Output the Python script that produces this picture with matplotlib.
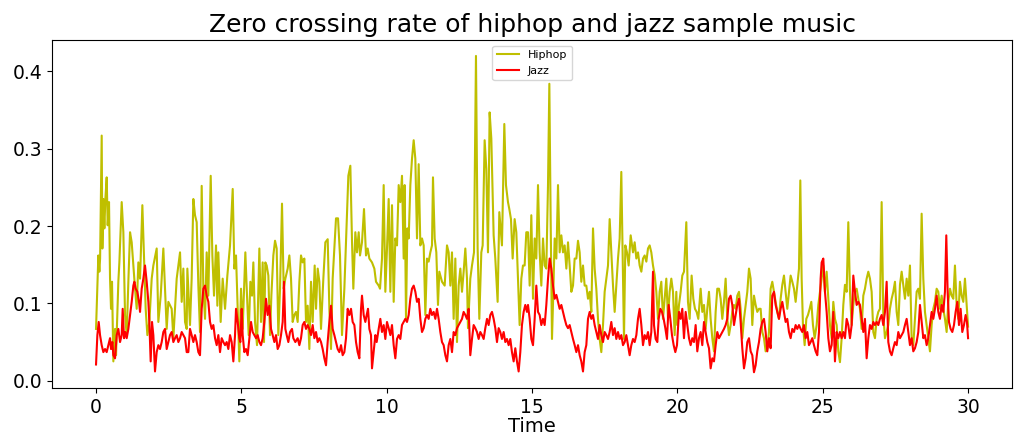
import matplotlib
matplotlib.use("Agg")
import matplotlib.pyplot as plt
from matplotlib.ticker import MultipleLocator

# zero crossing rate frames (time in seconds, rate per frame)
hiphop_time = [
    0.0, 0.08, 0.115, 0.14, 0.195, 0.218, 0.252, 0.287, 0.321, 0.367, 0.401, 0.447, 0.482, 0.516, 0.55,
    0.596, 0.654, 0.688, 0.768, 0.803, 0.883, 0.94, 0.998, 1.055, 1.112, 1.17, 1.227, 1.342, 1.399, 1.456,
    1.514, 1.594, 1.651, 1.708, 1.766, 1.835, 1.915, 1.972, 2.087, 2.144, 2.225, 2.316, 2.373, 2.431, 2.488,
    2.603, 2.66, 2.775, 2.89, 2.947, 3.004, 3.062, 3.119, 3.142, 3.233, 3.29, 3.348, 3.405, 3.463, 3.52,
    3.577, 3.635, 3.692, 3.75, 3.807, 3.864, 3.945, 4.002, 4.059, 4.128, 4.174, 4.208, 4.288, 4.357, 4.438,
    4.518, 4.61, 4.702, 4.759,
    4.816, 4.873, 4.93, 4.988, 5.045, 5.137, 5.194, 5.252, 5.309, 5.366, 5.412, 5.47, 5.538, 5.619, 5.676,
    5.733, 5.779, 5.825, 5.871, 5.928, 5.986, 6.032, 6.1, 6.158, 6.215, 6.272, 6.33, 6.398, 6.456, 6.513,
    6.593, 6.651, 6.708, 6.765, 6.823, 6.88, 6.937, 6.995, 7.052, 7.109, 7.167, 7.224, 7.281, 7.339, 7.396,
    7.453, 7.522, 7.568, 7.626, 7.683, 7.74, 7.82, 7.889, 7.97, 8.027, 8.084, 8.141, 8.199, 8.256, 8.325,
    8.393, 8.462, 8.543, 8.623, 8.68, 8.749, 8.807, 8.852, 8.921, 8.978, 9.036, 9.082, 9.15, 9.219, 9.288,
    9.345, 9.403, 9.494, 9.575, 9.632, 9.724, 9.77,
    9.838, 9.896, 9.953, 10.01, 10.068, 10.125, 10.182, 10.24, 10.297, 10.354, 10.412, 10.469, 10.526,
    10.584, 10.618, 10.664, 10.71, 10.756, 10.813, 10.87, 10.928, 10.985, 11.042, 11.1, 11.157, 11.214,
    11.272, 11.329, 11.386, 11.443, 11.501, 11.558, 11.592, 11.65, 11.707, 11.764, 11.81, 11.902, 11.994,
    12.074, 12.131, 12.189, 12.246, 12.303, 12.361, 12.418, 12.475, 12.533, 12.59, 12.647, 12.705, 12.762,
    12.796, 12.876, 12.934, 13.003, 13.071, 13.128, 13.186, 13.255, 13.301, 13.369, 13.427, 13.484, 13.541,
    13.599, 13.679, 13.736, 13.816, 13.874, 13.965, 14.046, 14.103, 14.172, 14.218, 14.275, 14.333, 14.401,
    14.459, 14.516, 14.573, 14.631, 14.688, 14.745, 14.803,
    14.861, 14.918, 14.975, 15.033, 15.09, 15.147, 15.205, 15.262, 15.319, 15.377, 15.434, 15.491, 15.549,
    15.595, 15.64, 15.686, 15.732, 15.778, 15.836, 15.893, 15.95, 16.008, 16.065, 16.122, 16.18, 16.237,
    16.294, 16.352, 16.409, 16.466, 16.524, 16.581, 16.638, 16.695, 16.753, 16.81, 16.867, 16.925, 16.982,
    17.039, 17.097, 17.154, 17.211, 17.269, 17.326, 17.383, 17.441, 17.498, 17.555, 17.613, 17.67, 17.727,
    17.785, 17.842, 17.899, 17.957, 18.014, 18.071, 18.117, 18.163, 18.209, 18.266, 18.324, 18.393, 18.473,
    18.53, 18.588, 18.645, 18.702, 18.76, 18.817, 18.874, 18.932, 18.989, 19.046, 19.103, 19.161, 19.218,
    19.275, 19.333, 19.39, 19.447, 19.505, 19.562, 19.619, 19.677, 19.734, 19.791, 19.849, 19.906, 19.963,
    19.997, 20.055, 20.112, 20.169, 20.227, 20.307, 20.364, 20.422, 20.49, 20.548, 20.605, 20.662, 20.72,
    20.8, 20.857, 20.915, 20.972, 21.029, 21.087, 21.144, 21.201, 21.259, 21.316, 21.373, 21.431, 21.488,
    21.545, 21.603, 21.66, 21.717, 21.775, 21.832, 21.889, 21.947, 22.004, 22.061, 22.119, 22.176, 22.233,
    22.291, 22.348, 22.405, 22.463, 22.52, 22.577, 22.635, 22.692, 22.749, 22.807, 22.864, 22.921, 22.979,
    23.036, 23.093, 23.151, 23.208, 23.265, 23.323, 23.38, 23.437, 23.495, 23.552, 23.609, 23.667, 23.724,
    23.781, 23.839, 23.896, 23.953, 24.011, 24.068, 24.125, 24.183, 24.229, 24.275, 24.32, 24.378, 24.435,
    24.492, 24.55, 24.607, 24.664, 24.722, 24.791, 24.848,
    24.905, 24.963, 25.02, 25.077, 25.135, 25.192, 25.249, 25.307, 25.364, 25.421, 25.479, 25.536, 25.593,
    25.651, 25.708, 25.765, 25.823, 25.88, 25.937, 25.995, 26.052, 26.109, 26.167, 26.224, 26.281, 26.339,
    26.396, 26.453, 26.511, 26.568, 26.625, 26.683, 26.74, 26.797, 26.855, 26.912, 26.969, 27.027, 27.084,
    27.141, 27.199, 27.256, 27.313, 27.371, 27.428, 27.485, 27.543, 27.6, 27.657, 27.715, 27.772, 27.829,
    27.887, 27.944, 28.001, 28.059, 28.116, 28.173, 28.231, 28.288, 28.345, 28.403, 28.46, 28.517, 28.575,
    28.632, 28.689, 28.747, 28.804, 28.861, 28.919, 28.976, 29.033, 29.091, 29.148, 29.205, 29.263, 29.32,
    29.377, 29.435, 29.492, 29.549, 29.607, 29.664, 29.721, 29.779, 29.836, 29.893, 29.951, 30.0,
]
hiphop_zcr = [
    0.067, 0.162, 0.141, 0.158, 0.317, 0.171, 0.235, 0.197, 0.235, 0.263, 0.201, 0.231, 0.132, 0.093, 0.128,
    0.025, 0.067, 0.033, 0.128, 0.153, 0.231, 0.192, 0.085, 0.059, 0.128, 0.192, 0.179, 0.119, 0.093, 0.153,
    0.132, 0.227, 0.162, 0.093, 0.059, 0.076, 0.132, 0.149, 0.171, 0.076, 0.11, 0.171, 0.119, 0.067, 0.102,
    0.093, 0.055, 0.132, 0.166, 0.102, 0.145, 0.076, 0.067, 0.145, 0.072, 0.132, 0.235, 0.214, 0.205, 0.123,
    0.063, 0.252, 0.119, 0.08, 0.166, 0.11, 0.265, 0.162, 0.11, 0.175, 0.097, 0.166, 0.076, 0.132, 0.093,
    0.136, 0.175, 0.248, 0.145,
    0.162, 0.093, 0.025, 0.119, 0.067, 0.166, 0.11, 0.059, 0.128, 0.11, 0.153, 0.076, 0.046, 0.171, 0.076,
    0.153, 0.05, 0.153, 0.149, 0.136, 0.059, 0.11, 0.162, 0.181, 0.171, 0.059, 0.119, 0.229, 0.119, 0.132,
    0.145, 0.162, 0.132, 0.076, 0.085, 0.089, 0.076, 0.128, 0.162, 0.153, 0.158, 0.076, 0.097, 0.041, 0.128,
    0.076, 0.149, 0.093, 0.145, 0.128, 0.067, 0.132, 0.179, 0.183, 0.093, 0.041, 0.132, 0.171, 0.21, 0.21,
    0.162, 0.059, 0.119, 0.205, 0.265, 0.278, 0.179, 0.119, 0.192, 0.166, 0.192, 0.162, 0.179, 0.222, 0.162,
    0.171, 0.158, 0.153, 0.145, 0.128, 0.123, 0.119,
    0.158, 0.253, 0.115, 0.171, 0.235, 0.115, 0.227, 0.102, 0.184, 0.175, 0.253, 0.231, 0.265,
    0.158, 0.253, 0.08, 0.197, 0.184, 0.253, 0.287, 0.311, 0.287, 0.184, 0.28, 0.175, 0.184,
    0.175, 0.085, 0.158, 0.154, 0.166, 0.175, 0.263, 0.184, 0.166, 0.098, 0.141, 0.128, 0.123,
    0.175, 0.166, 0.123, 0.166, 0.08, 0.158, 0.05, 0.123, 0.145, 0.115, 0.141, 0.171, 0.132,
    0.068, 0.132, 0.149, 0.166, 0.42, 0.171, 0.08, 0.166, 0.175, 0.311, 0.274, 0.166, 0.347,
    0.313, 0.188, 0.158, 0.102, 0.218, 0.175, 0.332, 0.253, 0.231, 0.222, 0.209, 0.158, 0.209,
    0.192, 0.132, 0.072, 0.132, 0.149, 0.149, 0.192,
    0.192, 0.123, 0.214, 0.106, 0.184, 0.158, 0.253, 0.166, 0.123, 0.184, 0.149, 0.145, 0.253,
    0.384, 0.209, 0.054, 0.115, 0.184, 0.158, 0.253, 0.166, 0.188, 0.166, 0.175, 0.145, 0.179,
    0.149, 0.115, 0.123, 0.158, 0.158, 0.181, 0.166, 0.128, 0.149, 0.123, 0.123, 0.106, 0.115,
    0.089, 0.197, 0.145, 0.119, 0.08, 0.054, 0.037, 0.072, 0.115, 0.132, 0.149, 0.209, 0.166,
    0.123, 0.089, 0.123, 0.158, 0.184, 0.27, 0.158, 0.054, 0.175, 0.166, 0.149, 0.188, 0.166,
    0.179, 0.158, 0.166, 0.149, 0.141, 0.158, 0.162, 0.154, 0.171, 0.175, 0.166, 0.149, 0.137,
    0.115, 0.08, 0.115, 0.128, 0.08, 0.106, 0.132, 0.08, 0.115, 0.132, 0.115, 0.059, 0.115,
    0.072, 0.098, 0.115, 0.136, 0.141, 0.205, 0.102, 0.08, 0.136, 0.106, 0.093, 0.089, 0.08,
    0.119, 0.089, 0.098, 0.067, 0.093, 0.115, 0.08, 0.055, 0.038, 0.089, 0.119, 0.119, 0.106,
    0.08, 0.102, 0.132, 0.08, 0.059, 0.072, 0.089, 0.098, 0.093, 0.11, 0.115, 0.093, 0.055,
    0.08, 0.098, 0.115, 0.145, 0.132, 0.072, 0.11, 0.098, 0.089, 0.093, 0.093, 0.063, 0.055,
    0.038, 0.042, 0.063, 0.119, 0.128, 0.115, 0.102, 0.089, 0.08, 0.106, 0.124, 0.136, 0.115,
    0.093, 0.115, 0.136, 0.128, 0.119, 0.102, 0.124, 0.145, 0.259, 0.132, 0.072, 0.046, 0.08,
    0.085, 0.093, 0.102, 0.072, 0.055, 0.072, 0.098,
    0.115, 0.132, 0.149, 0.115, 0.141, 0.106, 0.072, 0.055, 0.102, 0.08, 0.072, 0.038, 0.024,
    0.055, 0.098, 0.124, 0.115, 0.205, 0.115, 0.072, 0.098, 0.115, 0.119, 0.106, 0.093, 0.067,
    0.11, 0.119, 0.132, 0.141, 0.132, 0.115, 0.063, 0.055, 0.08, 0.089, 0.093, 0.231, 0.085,
    0.055, 0.063, 0.072, 0.093, 0.106, 0.115, 0.128, 0.089, 0.072, 0.124, 0.141, 0.124, 0.106,
    0.132, 0.11, 0.149, 0.055, 0.046, 0.08, 0.115, 0.119, 0.106, 0.216, 0.132, 0.089, 0.072,
    0.055, 0.038, 0.072, 0.093, 0.102, 0.119, 0.115, 0.093, 0.11, 0.093, 0.08, 0.063, 0.102,
    0.119, 0.11, 0.106, 0.149, 0.098, 0.08, 0.128, 0.11, 0.102, 0.132, 0.098, 0.07,
]

jazz_time = [
    0.0, 0.046, 0.092, 0.138, 0.195, 0.252, 0.31, 0.367, 0.424, 0.482, 0.516, 0.562, 0.596, 0.654, 0.711,
    0.768, 0.826, 0.883, 0.917, 0.963, 1.009, 1.055, 1.112, 1.17, 1.227, 1.284, 1.319, 1.365, 1.422, 1.479,
    1.514, 1.571, 1.628, 1.685, 1.743, 1.8, 1.834, 1.88, 1.926, 1.972, 2.029, 2.087, 2.144, 2.201, 2.259,
    2.316, 2.373, 2.431, 2.488, 2.545, 2.603, 2.66, 2.718, 2.775, 2.832, 2.89, 2.947, 3.004, 3.062, 3.119,
    3.176, 3.233, 3.29, 3.348, 3.405, 3.463, 3.52, 3.577, 3.635, 3.692, 3.75, 3.807, 3.864, 3.922, 3.979,
    4.036, 4.094, 4.151, 4.208, 4.266, 4.323, 4.38, 4.438, 4.495, 4.552, 4.61, 4.667, 4.724, 4.782,
    4.816, 4.873, 4.93, 4.965, 5.011, 5.045, 5.102, 5.16, 5.217, 5.274, 5.332, 5.389, 5.447, 5.504, 5.561,
    5.619, 5.676, 5.733, 5.791, 5.848, 5.905, 5.963, 6.02, 6.077, 6.135, 6.192, 6.249, 6.307, 6.364, 6.421,
    6.467, 6.513, 6.559, 6.616, 6.674, 6.742, 6.788, 6.857, 6.937, 6.995, 7.052, 7.109, 7.167, 7.224, 7.281,
    7.339, 7.396, 7.453, 7.511, 7.568, 7.625, 7.683, 7.74, 7.797, 7.855, 7.912, 7.969, 8.027, 8.084, 8.141,
    8.199, 8.256, 8.313, 8.371, 8.428, 8.485, 8.543, 8.6, 8.657, 8.715, 8.772, 8.829, 8.887, 8.944, 9.001,
    9.059, 9.116, 9.15, 9.208, 9.265, 9.311, 9.357, 9.403, 9.46, 9.494, 9.54, 9.609, 9.655, 9.724, 9.781,
    9.838, 9.896, 9.953, 10.01, 10.068, 10.125, 10.182, 10.24, 10.297, 10.354, 10.412, 10.469, 10.526,
    10.584, 10.641, 10.698, 10.756, 10.813, 10.87, 10.928, 10.985, 11.042, 11.1, 11.157, 11.214, 11.272,
    11.329, 11.386, 11.443, 11.501, 11.558, 11.615, 11.673, 11.73, 11.787, 11.845, 11.902, 11.959, 12.017,
    12.074, 12.131, 12.189, 12.246, 12.303, 12.361, 12.418, 12.475, 12.533, 12.59, 12.647, 12.705, 12.762,
    12.819, 12.876, 12.934, 12.991, 13.048, 13.106, 13.163, 13.22, 13.278, 13.335, 13.392, 13.45, 13.507,
    13.564, 13.622, 13.679, 13.736, 13.794, 13.851, 13.908, 13.965, 14.023, 14.08, 14.137, 14.195, 14.252,
    14.309, 14.367, 14.424, 14.481, 14.539, 14.596, 14.653, 14.711, 14.768, 14.825,
    14.861, 14.918, 14.975, 15.033, 15.09, 15.147, 15.205, 15.262, 15.319, 15.377, 15.434, 15.491, 15.549,
    15.606, 15.663, 15.721, 15.778, 15.836, 15.893, 15.95, 16.008, 16.065, 16.122, 16.18, 16.237, 16.294,
    16.352, 16.409, 16.466, 16.524, 16.581, 16.638, 16.695, 16.753, 16.81, 16.867, 16.925, 16.982, 17.039,
    17.097, 17.154, 17.211, 17.269, 17.326, 17.383, 17.441, 17.498, 17.555, 17.613, 17.67, 17.727, 17.785,
    17.842, 17.899, 17.957, 18.014, 18.071, 18.129, 18.186, 18.243, 18.301, 18.358, 18.415, 18.473, 18.53,
    18.588, 18.645, 18.702, 18.76, 18.817, 18.874, 18.932, 18.989, 19.046, 19.103, 19.161, 19.195, 19.252,
    19.31, 19.356, 19.413, 19.47, 19.528, 19.585, 19.642, 19.7, 19.757, 19.814, 19.872, 19.929, 19.986,
    20.055, 20.112, 20.169, 20.227, 20.284, 20.341, 20.399, 20.456, 20.513, 20.571, 20.628, 20.685, 20.743,
    20.8, 20.857, 20.915, 20.972, 21.029, 21.087, 21.144, 21.201, 21.259, 21.316, 21.373, 21.431, 21.488,
    21.545, 21.603, 21.66, 21.717, 21.775, 21.832, 21.889, 21.947, 22.004, 22.061, 22.119, 22.176, 22.233,
    22.291, 22.348, 22.405, 22.463, 22.52, 22.577, 22.635, 22.692, 22.749, 22.807, 22.864, 22.921, 22.979,
    23.036, 23.093, 23.151, 23.208, 23.265, 23.323, 23.38, 23.437, 23.495, 23.552, 23.609, 23.667, 23.724,
    23.781, 23.839, 23.896, 23.953, 24.011, 24.068, 24.125, 24.183, 24.24, 24.297, 24.355, 24.412, 24.469,
    24.527, 24.584, 24.641, 24.699, 24.756, 24.813, 24.871, 24.928,
    24.963, 25.02, 25.077, 25.135, 25.192, 25.249, 25.307, 25.364, 25.421, 25.479, 25.536, 25.593, 25.651,
    25.708, 25.765, 25.823, 25.88, 25.937, 25.995, 26.052, 26.109, 26.167, 26.224, 26.281, 26.339, 26.396,
    26.453, 26.511, 26.568, 26.625, 26.683, 26.74, 26.797, 26.855, 26.912, 26.969, 27.027, 27.084, 27.141,
    27.199, 27.256, 27.313, 27.371, 27.428, 27.485, 27.543, 27.6, 27.657, 27.715, 27.772, 27.829, 27.887,
    27.944, 28.001, 28.059, 28.116, 28.173, 28.231, 28.288, 28.345, 28.403, 28.46, 28.517, 28.575, 28.632,
    28.689, 28.747, 28.804, 28.861, 28.919, 28.976, 29.033, 29.091, 29.148, 29.205, 29.251, 29.297, 29.343,
    29.4, 29.458, 29.515, 29.572, 29.63, 29.687, 29.744, 29.801, 29.859, 29.916, 29.962, 30.0,
]
jazz_zcr = [
    0.021, 0.059, 0.076, 0.059, 0.046, 0.037, 0.041, 0.037, 0.046, 0.055, 0.041, 0.05, 0.033, 0.029, 0.059,
    0.067, 0.05, 0.059, 0.093, 0.055, 0.063, 0.055, 0.067, 0.085, 0.102, 0.123, 0.128, 0.119, 0.115, 0.102,
    0.089, 0.119, 0.132, 0.149, 0.128, 0.102, 0.076, 0.025, 0.076, 0.059, 0.012, 0.037, 0.046, 0.041, 0.05,
    0.063, 0.067, 0.041, 0.05, 0.059, 0.063, 0.05, 0.055, 0.059, 0.05, 0.055, 0.063, 0.059, 0.055, 0.037,
    0.037, 0.067, 0.059, 0.05, 0.059, 0.05, 0.037, 0.033, 0.093, 0.119, 0.123, 0.11, 0.102, 0.076, 0.067,
    0.072, 0.055, 0.046, 0.059, 0.037, 0.055, 0.05, 0.046, 0.05, 0.041, 0.059, 0.05, 0.025, 0.059,
    0.093, 0.076, 0.055, 0.05, 0.093, 0.059, 0.037, 0.041, 0.033, 0.055, 0.076, 0.063, 0.059, 0.055, 0.059,
    0.05, 0.046, 0.055, 0.076, 0.106, 0.085, 0.097, 0.067, 0.059, 0.05, 0.059, 0.041, 0.046, 0.059, 0.076,
    0.128, 0.067, 0.059, 0.05, 0.063, 0.067, 0.055, 0.05, 0.055, 0.046, 0.055, 0.072, 0.076, 0.067, 0.072,
    0.067, 0.059, 0.072, 0.055, 0.063, 0.05, 0.055, 0.05, 0.041, 0.029, 0.02, 0.05, 0.076, 0.097, 0.067,
    0.059, 0.05, 0.041, 0.037, 0.046, 0.033, 0.037, 0.055, 0.093, 0.085, 0.093, 0.076, 0.072, 0.05, 0.037,
    0.029, 0.093, 0.11, 0.085, 0.076, 0.085, 0.093, 0.067, 0.059, 0.016, 0.033, 0.059, 0.05, 0.067, 0.08,
    0.063, 0.072, 0.054, 0.076, 0.068, 0.059, 0.072, 0.046, 0.029, 0.054, 0.059, 0.054, 0.072,
    0.076, 0.08, 0.076, 0.085, 0.106, 0.119, 0.123, 0.115, 0.102, 0.106, 0.08, 0.063, 0.068,
    0.08, 0.085, 0.08, 0.093, 0.085, 0.089, 0.08, 0.093, 0.08, 0.063, 0.05, 0.046, 0.033,
    0.025, 0.046, 0.054, 0.037, 0.063, 0.059, 0.068, 0.072, 0.076, 0.08, 0.089, 0.085, 0.08,
    0.093, 0.033, 0.054, 0.072, 0.068, 0.063, 0.054, 0.063, 0.059, 0.054, 0.068, 0.08, 0.072,
    0.085, 0.089, 0.08, 0.068, 0.05, 0.068, 0.063, 0.054, 0.063, 0.05, 0.054, 0.046, 0.054,
    0.037, 0.025, 0.042, 0.025, 0.012, 0.037, 0.072, 0.089, 0.098, 0.089,
    0.098, 0.08, 0.054, 0.046, 0.08, 0.123, 0.089, 0.085, 0.072, 0.08, 0.072, 0.098, 0.132,
    0.158, 0.145, 0.123, 0.106, 0.111, 0.102, 0.093, 0.098, 0.089, 0.08, 0.072, 0.068, 0.072,
    0.063, 0.054, 0.046, 0.037, 0.046, 0.033, 0.025, 0.012, 0.037, 0.046, 0.08, 0.089, 0.08,
    0.085, 0.072, 0.063, 0.054, 0.072, 0.059, 0.05, 0.063, 0.059, 0.054, 0.063, 0.076, 0.059,
    0.068, 0.054, 0.063, 0.054, 0.059, 0.046, 0.05, 0.059, 0.046, 0.033, 0.046, 0.054, 0.05,
    0.059, 0.08, 0.093, 0.072, 0.046, 0.059, 0.054, 0.063, 0.046, 0.063, 0.141, 0.072, 0.054,
    0.05, 0.08, 0.093, 0.089, 0.08, 0.068, 0.054, 0.098, 0.08, 0.059, 0.046, 0.037, 0.046,
    0.089, 0.08, 0.093, 0.055, 0.089, 0.072, 0.055, 0.046, 0.055, 0.05, 0.072, 0.038, 0.055,
    0.063, 0.046, 0.076, 0.063, 0.05, 0.042, 0.016, 0.029, 0.025, 0.046, 0.063, 0.055, 0.059,
    0.063, 0.067, 0.072, 0.08, 0.106, 0.11, 0.098, 0.072, 0.085, 0.098, 0.106, 0.076, 0.042,
    0.016, 0.029, 0.05, 0.055, 0.038, 0.033, 0.011, 0.02, 0.038, 0.05, 0.067, 0.076, 0.08,
    0.063, 0.038, 0.055, 0.042, 0.11, 0.115, 0.098, 0.089, 0.08, 0.093, 0.102, 0.089, 0.076,
    0.08, 0.063, 0.055, 0.067, 0.063, 0.072, 0.067, 0.072, 0.067, 0.063, 0.072, 0.055, 0.063,
    0.046, 0.05, 0.055, 0.046, 0.038, 0.033, 0.063, 0.132,
    0.153, 0.158, 0.115, 0.089, 0.055, 0.038, 0.046, 0.089, 0.025, 0.063, 0.055, 0.063, 0.055,
    0.063, 0.055, 0.08, 0.072, 0.055, 0.072, 0.136, 0.115, 0.098, 0.102, 0.098, 0.08, 0.063,
    0.08, 0.029, 0.055, 0.072, 0.067, 0.076, 0.072, 0.076, 0.072, 0.08, 0.085, 0.072, 0.089,
    0.128, 0.05, 0.038, 0.033, 0.042, 0.05, 0.046, 0.063, 0.055, 0.059, 0.063, 0.072, 0.08,
    0.063, 0.046, 0.055, 0.038, 0.042, 0.05, 0.063, 0.098, 0.076, 0.055, 0.059, 0.046, 0.055,
    0.072, 0.089, 0.08, 0.093, 0.11, 0.089, 0.08, 0.098, 0.089, 0.115, 0.188, 0.115, 0.076,
    0.067, 0.063, 0.072, 0.089, 0.102, 0.072, 0.093, 0.063, 0.072, 0.085, 0.076, 0.055,
]

fig = plt.figure(figsize=(10.14, 4.36), dpi=100)
ax = fig.add_axes([0.0517, 0.110, 0.946, 0.798])

ax.plot(hiphop_time, hiphop_zcr, color="y", linewidth=1.5, label="Hiphop")
ax.plot(jazz_time, jazz_zcr, color="r", linewidth=1.5, label="Jazz")

ax.set_title("Zero crossing rate of hiphop and jazz sample music", fontsize=18)
ax.set_xlabel("Time", fontsize=14, labelpad=0)
ax.yaxis.set_major_locator(MultipleLocator(0.1))
ax.tick_params(labelsize=13.5)
ax.legend(loc="upper center", fontsize=8)

plt.savefig("out.png", dpi=100)
